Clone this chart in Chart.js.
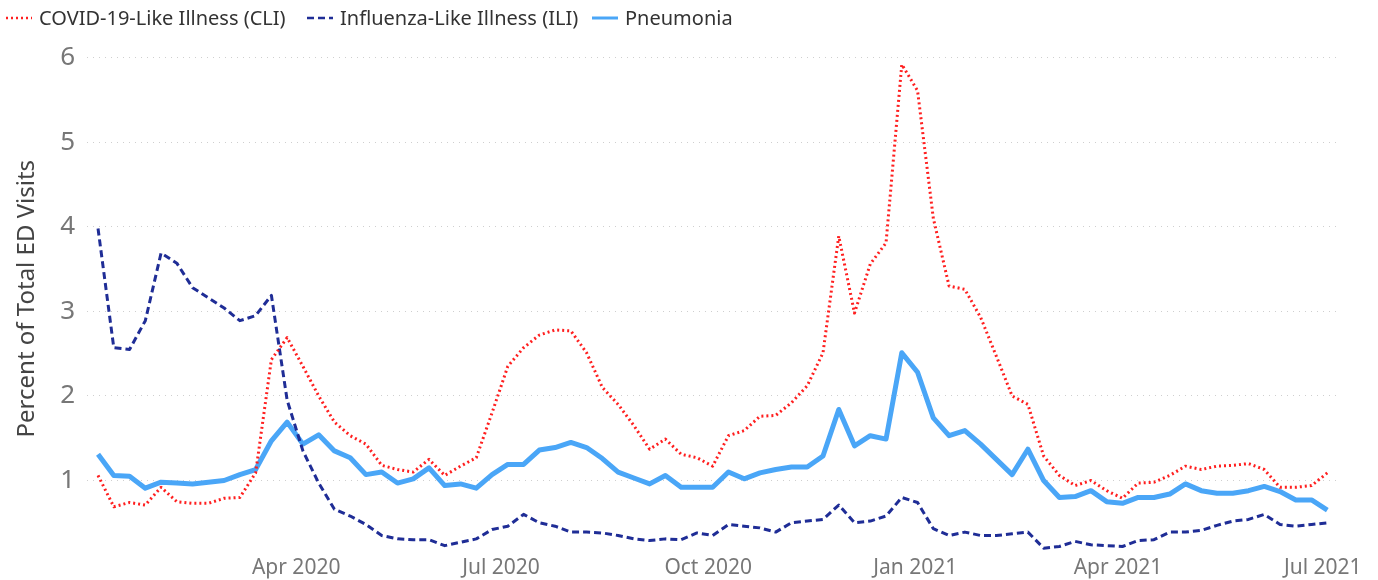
<!DOCTYPE html>
<html>
<head>
<meta charset="utf-8">
<script src="https://cdn.jsdelivr.net/npm/chart.js@4"></script>
<style>
  html, body { margin: 0; padding: 0; background: #fff; }
  #wrap { position: relative; width: 1378px; height: 580px; }
  #legend { position: absolute; left: 6px; top: 4px; display: flex; align-items: center;
    font-family: "Noto Sans", sans-serif; font-size: 20px; color: #333; }
  #legend .item { display: flex; align-items: center; }
  #legend .item:nth-child(1) { width: 301px; }
  #legend .item:nth-child(2) { width: 285px; }
  #legend svg { margin-right: 7px; }
</style>
</head>
<body>
<div id="wrap">
  <div id="legend"></div>
  <canvas id="lineChart" width="1378" height="580"></canvas>
</div>
<script>
// setup
const firstWeek = '2020-01-04';   // weekly points, week ending on Saturday
const weekCount = 79;

const seriesNames = ['COVID-19-Like Illness (CLI)', 'Influenza-Like Illness (ILI)', 'Pneumonia'];

const cli = [
  1.06, 0.69, 0.74, 0.71, 0.92, 0.75, 0.73, 0.73, 0.79, 0.80,
  1.09, 2.43, 2.69, 2.35, 2.00, 1.69, 1.53, 1.43, 1.18, 1.13,
  1.10, 1.25, 1.06, 1.17, 1.27, 1.80, 2.35, 2.57, 2.72, 2.78,
  2.77, 2.51, 2.10, 1.90, 1.65, 1.37, 1.49, 1.31, 1.27, 1.17,
  1.53, 1.59, 1.76, 1.77, 1.92, 2.12, 2.51, 3.89, 2.98, 3.56,
  3.81, 5.92, 5.61, 4.10, 3.30, 3.26, 2.93, 2.47, 2.00, 1.90,
  1.29, 1.06, 0.94, 1.00, 0.88, 0.79, 0.97, 0.98, 1.06, 1.17,
  1.13, 1.17, 1.18, 1.20, 1.13, 0.92, 0.92, 0.94, 1.09
];

const ili = [
  3.98, 2.57, 2.55, 2.89, 3.69, 3.57, 3.28, 3.16, 3.04, 2.89,
  2.95, 3.19, 1.95, 1.35, 0.97, 0.66, 0.58, 0.48, 0.35, 0.31,
  0.30, 0.30, 0.23, 0.27, 0.31, 0.42, 0.46, 0.60, 0.50, 0.46,
  0.39, 0.39, 0.38, 0.35, 0.31, 0.29, 0.31, 0.30, 0.38, 0.35,
  0.48, 0.46, 0.44, 0.39, 0.50, 0.52, 0.54, 0.71, 0.50, 0.52,
  0.58, 0.80, 0.74, 0.43, 0.35, 0.39, 0.35, 0.35, 0.37, 0.39,
  0.20, 0.22, 0.28, 0.24, 0.23, 0.22, 0.29, 0.30, 0.39, 0.39,
  0.41, 0.47, 0.52, 0.54, 0.60, 0.48, 0.46, 0.48, 0.50
];

const pneumonia = [
  1.31, 1.06, 1.05, 0.91, 0.98, 0.97, 0.96, 0.98, 1.00, 1.07,
  1.13, 1.47, 1.69, 1.43, 1.54, 1.35, 1.27, 1.07, 1.10, 0.97,
  1.02, 1.15, 0.94, 0.96, 0.91, 1.07, 1.19, 1.19, 1.36, 1.39,
  1.45, 1.39, 1.26, 1.10, 1.03, 0.96, 1.06, 0.92, 0.92, 0.92,
  1.10, 1.02, 1.09, 1.13, 1.16, 1.16, 1.29, 1.84, 1.41, 1.53,
  1.49, 2.51, 2.28, 1.74, 1.53, 1.59, 1.43, 1.25, 1.07, 1.37,
  1.00, 0.80, 0.81, 0.88, 0.75, 0.73, 0.80, 0.80, 0.84, 0.96,
  0.88, 0.85, 0.85, 0.88, 0.93, 0.87, 0.77, 0.77, 0.65
];

const monthTickDates = ['2020-04-01', '2020-07-01', '2020-10-01', '2021-01-01', '2021-04-01', '2021-07-01'];
const monthTickLabels = ['Apr 2020', 'Jul 2020', 'Oct 2020', 'Jan 2021', 'Apr 2021', 'Jul 2021'];
const yTicks = [1, 2, 3, 4, 5, 6];

const colors = ['#ff1f1f', '#1f2d96', '#4aa6f7'];
const dashes = [[2, 3], [7, 4], []];
const widths = [3, 3, 5];

// day offsets from the first week
const DAY = 86400000;
const t0 = Date.parse(firstWeek);
const dayOf = d => Math.round((Date.parse(d) - t0) / DAY);
const weekDays = [];
for (let i = 0; i < weekCount; i++) weekDays.push(i * 7);
const tickDays = monthTickDates.map(dayOf);

const toPoints = arr => arr.map((v, i) => ({ x: weekDays[i], y: v }));
const values = [cli, ili, pneumonia];

// html legend
const legend = document.getElementById('legend');
seriesNames.forEach((name, i) => {
  const item = document.createElement('div');
  item.className = 'item';
  item.innerHTML = '<svg width="26" height="6"><line x1="0" y1="3" x2="26" y2="3" stroke="' + colors[i] +
    '" stroke-width="' + (i === 2 ? 3 : 2.5) + '" stroke-dasharray="' + (dashes[i].length ? dashes[i].join(' ') : 'none') +
    '"/></svg><span>' + name + '</span>';
  legend.appendChild(item);
});

// config
const config = {
  type: 'line',
  data: {
    datasets: seriesNames.map((name, i) => ({
      label: name,
      data: toPoints(values[i]),
      borderColor: colors[i],
      backgroundColor: colors[i],
      borderWidth: widths[i],
      borderDash: dashes[i],
      borderJoinStyle: 'round',
      pointRadius: 0,
      tension: 0,
      order: i === 2 ? 3 : i
    }))
  },
  options: {
    responsive: false,
    animation: false,
    layout: { padding: { top: 45, right: 41, left: 0, bottom: 0 } },
    plugins: { legend: { display: false }, tooltip: { enabled: false } },
    scales: {
      x: {
        type: 'linear',
        min: -4.9,
        max: 550.3,
        grid: { display: false, drawTicks: false },
        border: { display: false },
        afterBuildTicks: s => { s.ticks = tickDays.map(v => ({ value: v })); },
        afterFit: s => { s.height = 26; },
        ticks: {
          autoSkip: false,
          maxRotation: 0,
          padding: 3,
          color: '#777',
          font: { family: 'Noto Sans', size: 21 },
          callback: v => monthTickLabels[tickDays.indexOf(v)]
        }
      },
      y: {
        min: 0.15,
        max: 6.15,
        afterBuildTicks: s => { s.ticks = yTicks.map(v => ({ value: v })); },
        afterFit: s => { s.width = 87; },
        grid: { color: '#cfcfcf', lineWidth: 1, drawTicks: false },
        border: { display: false, dash: [1, 5] },
        ticks: {
          padding: 12,
          color: '#777',
          font: { family: 'Noto Sans', size: 26 }
        },
        title: {
          display: true,
          text: 'Percent of Total ED Visits',
          color: '#444',
          padding: { top: 13, bottom: 0 },
          font: { family: 'Noto Sans', size: 24 }
        }
      }
    }
  }
};

const lineChart = new Chart(document.getElementById('lineChart'), config);
</script>
</body>
</html>
